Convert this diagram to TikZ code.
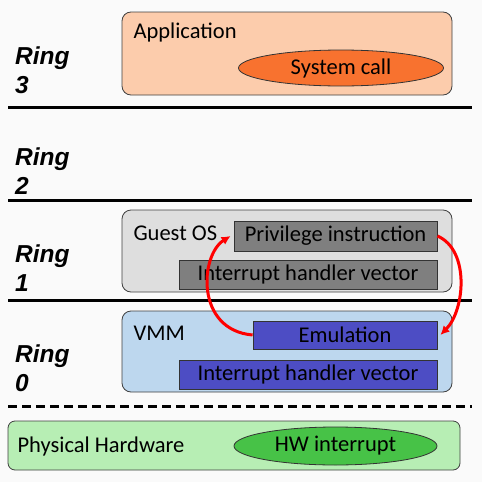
\documentclass[tikz,border=0pt]{standalone}
\usepackage{fontspec}
\setmainfont{Carlito}
\newfontfamily\ringfont{Liberation Sans}
\usetikzlibrary{arrows.meta,positioning,shapes.geometric}

\definecolor{appfill}{HTML}{FCCCAC}
\definecolor{sysfill}{HTML}{F8722F}
\definecolor{guestfill}{HTML}{DEDEDE}
\definecolor{grayinst}{HTML}{7F7F7F}
\definecolor{vmmfill}{HTML}{BDD7EE}
\definecolor{blueinst}{HTML}{4D4DC4}
\definecolor{hwfill}{HTML}{B7EEB4}
\definecolor{hwoval}{HTML}{47C247}
\definecolor{bgcol}{HTML}{FAFAFA}

\begin{document}
\begin{tikzpicture}[x=1pt,y=-1pt,>=Latex,
    font=\fontsize{22.5}{27}\selectfont,
    ringlbl/.style={anchor=west,align=left,inner sep=0pt,
      font=\fontsize{24.5}{29}\selectfont\ringfont\bfseries\itshape},
    layer/.style={draw=black!75,line width=0.8pt,rounded corners=9pt,inner sep=0pt},
    inst/.style={draw=black!80,line width=0.8pt,inner sep=0pt},
    oval/.style={ellipse,draw=black!80,line width=0.8pt,inner sep=0pt},
    sep/.style={line width=3pt},
    redarr/.style={->,red,line width=3pt,>={Latex[length=9pt,width=9pt]}}]
  \fill[bgcol] (0,0) rectangle (482,482);
  \useasboundingbox (0,0) rectangle (482,482);

  % ring labels
  \node[ringlbl] (r3) at (15,70) {Ring\\3};
  \node[ringlbl] (r2) at (15,171) {Ring\\2};
  \node[ringlbl] (r1) at (15,268) {Ring\\1};
  \node[ringlbl] (r0) at (15,368) {Ring\\0};

  % separators
  \draw[sep] (8,107) -- (472,107);
  \draw[sep] (8,200) -- (472,200);
  \draw[sep] (8,300) -- (472,300);
  \draw[sep,dash pattern=on 9pt off 5pt] (8,406) -- (472,406);

  % ring 3
  \node[layer,fill=appfill,minimum width=330,minimum height=83] (app) at (287,53.5) {};
  \node[anchor=west] (applbl) at (130,33) {Application};
  \node[oval,fill=sysfill,minimum width=205,minimum height=36] (sys) at (341,68) {System call};

  % ring 1
  \node[layer,fill=guestfill,minimum width=330,minimum height=82] (guest) at (287,251) {};
  \node[anchor=west] (guestlbl) at (130,233) {Guest OS};
  \node[inst,fill=grayinst,minimum width=203,minimum height=30] (prv) at (335.5,236) {Privilege instruction};
  \node[inst,fill=grayinst,minimum width=258,minimum height=29] (ivg) at (308,274.5) {Interrupt handler vector};

  % ring 0
  \node[layer,fill=vmmfill,minimum width=330,minimum height=81] (vmm) at (287,351.5) {};
  \node[anchor=west] (vmmlbl) at (130,333) {VMM};
  \node[inst,fill=blueinst,minimum width=184,minimum height=28] (emu) at (345,335) {Emulation};
  \node[inst,fill=blueinst,minimum width=258,minimum height=29] (ivb) at (308,374.5) {Interrupt handler vector};

  % hardware
  \node[layer,rounded corners=7pt,fill=hwfill,minimum width=452,minimum height=49] (hw) at (234,445.5) {};
  \node[anchor=west] (hwlbl) at (14,446) {Physical Hardware};
  \node[oval,fill=hwoval,minimum width=203,minimum height=38] (hwint) at (335.5,446) {HW interrupt};

  % trap and return
  \draw[redarr] (prv.east) .. controls (470,250) and (465,310) .. ([xshift=3pt]emu.east);
  \draw[redarr] (emu.west) .. controls (195,330) and (200,255) .. ([xshift=-3pt]prv.west);
\end{tikzpicture}
\end{document}
